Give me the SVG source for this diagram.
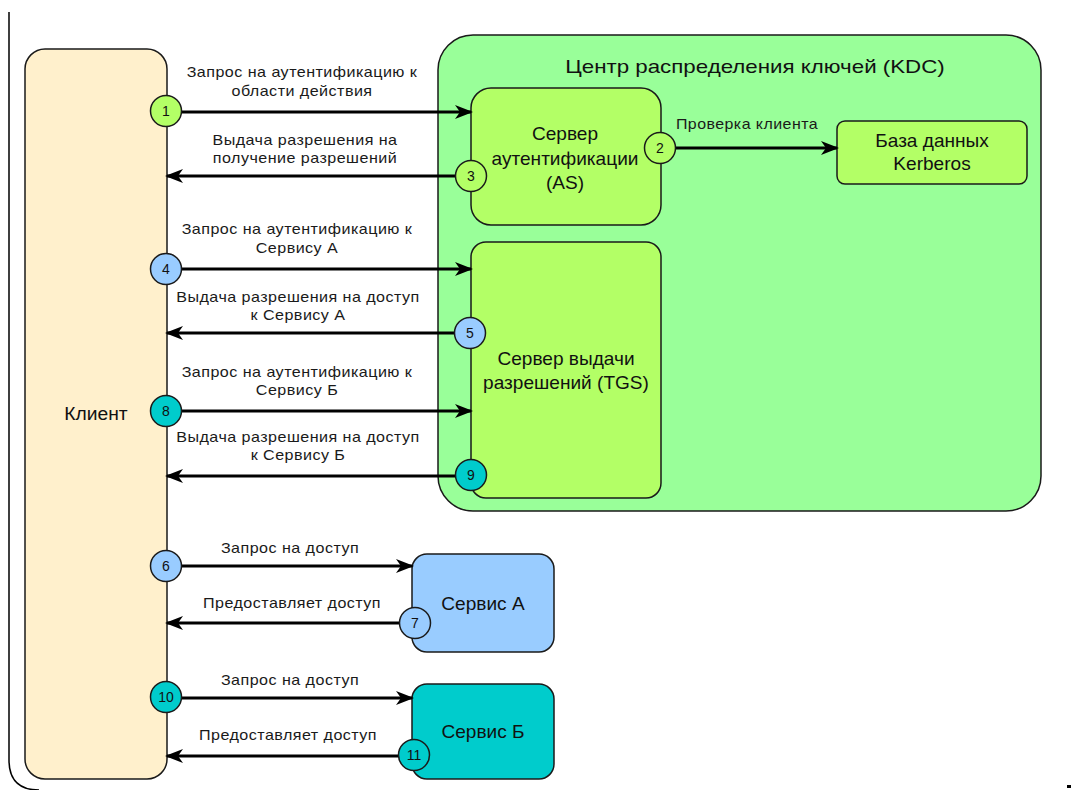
<svg xmlns="http://www.w3.org/2000/svg" width="1073" height="790" viewBox="0 0 1073 790">
  <defs>
    <marker id="arrow" viewBox="0 0 18 14" refX="16" refY="7" markerWidth="18" markerHeight="14" markerUnits="userSpaceOnUse" orient="auto">
      <path d="M0,0 L18,7 L0,14 L5,7 Z" fill="#000"/>
    </marker>
    <style>
      .box { stroke: #1a1a1a; stroke-width: 1.5; }
      .edge { stroke: #000; stroke-width: 3; fill: none; marker-end: url(#arrow); }
      .lbl { font-family: "Liberation Sans", Arial, sans-serif; font-size: 14px; fill: #1a1a1a; text-anchor: middle; letter-spacing: 0.4px; }
      .node { font-family: "Liberation Sans", Arial, sans-serif; font-size: 18px; fill: #111; text-anchor: middle; }
      .num { font-family: "Liberation Sans", Arial, sans-serif; font-size: 14px; fill: #111; text-anchor: middle; }
      .step { stroke: #1a1a1a; stroke-width: 1.5; }
      .g1 { fill: #B3FF66; }
      .b1 { fill: #99CCFF; }
      .c1 { fill: #00CCCC; }
    </style>
  </defs>

  <!-- outer frame -->
  <path d="M9,12 V760 Q9,790 39,790" fill="none" stroke="#000" stroke-width="1.5"/>
  <rect x="1067" y="785" width="4" height="3" fill="#000"/>

  <!-- nodes -->
  <g id="client">
    <rect class="box" x="25" y="49" width="142" height="730" rx="20" fill="#FFF0CC"/>
    <text class="node" transform="translate(96,420) scale(1.07,1)">Клиент</text>
  </g>

  <g id="kdc">
    <rect class="box" x="438" y="35" width="603" height="476" rx="35" fill="#99FF99"/>
    <text class="node" font-size="22" transform="translate(755,73) scale(1.24,1)">Центр распределения ключей (KDC)</text>
  </g>

  <g id="as">
    <rect class="box g1" x="471" y="88" width="190" height="137" rx="20"/>
    <text class="node" transform="translate(565,140) scale(1.06,1)">Сервер</text>
    <text class="node" transform="translate(565,165) scale(1.06,1)">аутентификации</text>
    <text class="node" transform="translate(565,189) scale(1.06,1)">(AS)</text>
  </g>

  <g id="kerberos-db">
    <rect class="box g1" x="837" y="121" width="190" height="63" rx="8"/>
    <text class="node" transform="translate(932,147) scale(1.06,1)">База данных</text>
    <text class="node" transform="translate(932,170) scale(1.06,1)">Kerberos</text>
  </g>

  <g id="tgs">
    <rect class="box g1" x="471" y="242" width="190" height="256" rx="15"/>
    <text class="node" transform="translate(566,365) scale(1.06,1)">Сервер выдачи</text>
    <text class="node" transform="translate(566,389) scale(1.06,1)">разрешений (TGS)</text>
  </g>

  <g id="service-a">
    <rect class="box b1" x="412" y="554" width="142" height="98" rx="15"/>
    <text class="node" transform="translate(483,610) scale(1.06,1)">Сервис А</text>
  </g>

  <g id="service-b">
    <rect class="box c1" x="412" y="684" width="142" height="95" rx="15"/>
    <text class="node" transform="translate(483,738) scale(1.06,1)">Сервис Б</text>
  </g>

  <!-- connectors -->
  <g id="connectors">
    <line class="edge" x1="181" y1="112" x2="471" y2="112"/>
    <line class="edge" x1="456" y1="176" x2="167" y2="176"/>
    <line class="edge" x1="675" y1="148" x2="837" y2="148"/>
    <line class="edge" x1="181" y1="269" x2="471" y2="269"/>
    <line class="edge" x1="455" y1="333" x2="167" y2="333"/>
    <line class="edge" x1="181" y1="411" x2="471" y2="411"/>
    <line class="edge" x1="456" y1="476" x2="167" y2="476"/>
    <line class="edge" x1="181" y1="566" x2="412" y2="566"/>
    <line class="edge" x1="400" y1="623" x2="167" y2="623"/>
    <line class="edge" x1="181" y1="698" x2="412" y2="698"/>
    <line class="edge" x1="399" y1="756" x2="167" y2="756"/>

    <text class="lbl" transform="translate(302,77) scale(1.15,1)">Запрос на аутентификацию к</text>
    <text class="lbl" transform="translate(302,96) scale(1.15,1)">области действия</text>
    <text class="lbl" transform="translate(305,145) scale(1.15,1)">Выдача разрешения на</text>
    <text class="lbl" transform="translate(305,163) scale(1.15,1)">получение разрешений</text>
    <text class="lbl" font-size="13" transform="translate(747,129) scale(1.14,1)">Проверка клиента</text>
    <text class="lbl" transform="translate(297,234) scale(1.15,1)">Запрос на аутентификацию к</text>
    <text class="lbl" transform="translate(297,253) scale(1.15,1)">Сервису А</text>
    <text class="lbl" transform="translate(298,302) scale(1.15,1)">Выдача разрешения на доступ</text>
    <text class="lbl" transform="translate(298,320) scale(1.15,1)">к Сервису А</text>
    <text class="lbl" transform="translate(297,377) scale(1.15,1)">Запрос на аутентификацию к</text>
    <text class="lbl" transform="translate(297,395) scale(1.15,1)">Сервису Б</text>
    <text class="lbl" transform="translate(298,442) scale(1.15,1)">Выдача разрешения на доступ</text>
    <text class="lbl" transform="translate(298,460) scale(1.15,1)">к Сервису Б</text>
    <text class="lbl" transform="translate(290,553) scale(1.15,1)">Запрос на доступ</text>
    <text class="lbl" transform="translate(292,608) scale(1.15,1)">Предоставляет доступ</text>
    <text class="lbl" transform="translate(290,685) scale(1.15,1)">Запрос на доступ</text>
    <text class="lbl" transform="translate(288,740) scale(1.15,1)">Предоставляет доступ</text>
  </g>

  <!-- step markers -->
  <g id="step-1"><circle class="step g1" cx="166" cy="111" r="15.5"/><text class="num" x="166" y="116">1</text></g>
  <g id="step-2"><circle class="step g1" cx="660" cy="148" r="15.5"/><text class="num" x="660" y="153">2</text></g>
  <g id="step-3"><circle class="step g1" cx="471" cy="176" r="15.5"/><text class="num" x="471" y="181">3</text></g>
  <g id="step-4"><circle class="step b1" cx="166" cy="269" r="15.5"/><text class="num" x="166" y="274">4</text></g>
  <g id="step-5"><circle class="step b1" cx="470" cy="333" r="15.5"/><text class="num" x="470" y="338">5</text></g>
  <g id="step-8"><circle class="step c1" cx="166" cy="411" r="15.5"/><text class="num" x="166" y="416">8</text></g>
  <g id="step-9"><circle class="step c1" cx="471" cy="475" r="15.5"/><text class="num" x="471" y="480">9</text></g>
  <g id="step-6"><circle class="step b1" cx="166" cy="566" r="15.5"/><text class="num" x="166" y="571">6</text></g>
  <g id="step-7"><circle class="step b1" cx="415" cy="623" r="15.5"/><text class="num" x="415" y="628">7</text></g>
  <g id="step-10"><circle class="step c1" cx="166" cy="697" r="15.5"/><text class="num" x="166" y="702">10</text></g>
  <g id="step-11"><circle class="step c1" cx="414" cy="755" r="15.5"/><text class="num" x="414" y="760">11</text></g>
</svg>
